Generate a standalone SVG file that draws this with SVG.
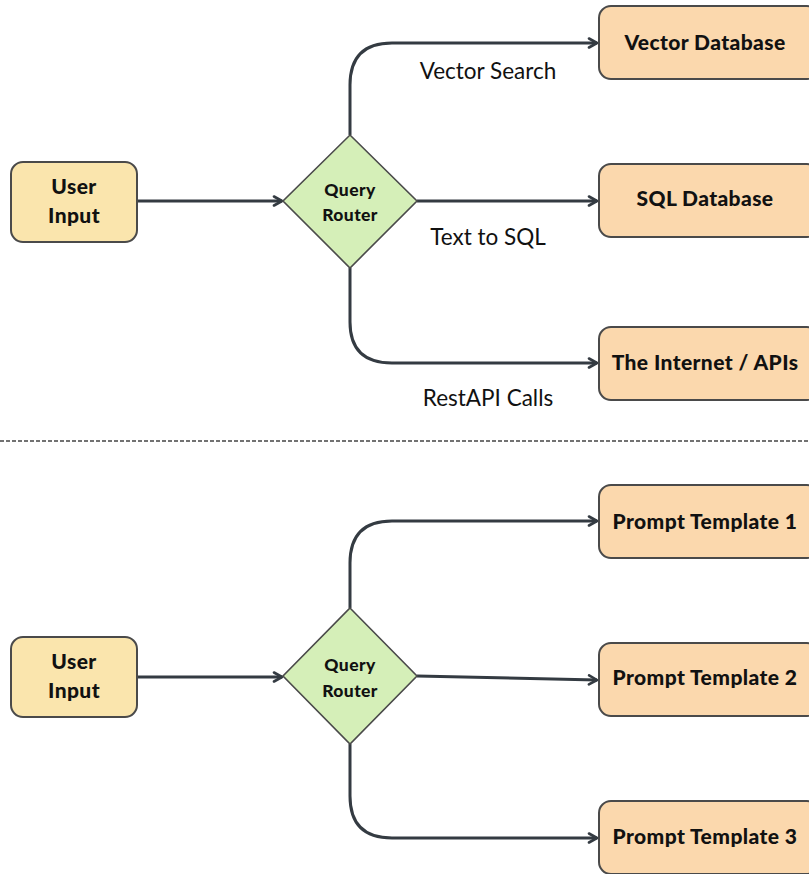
<svg xmlns="http://www.w3.org/2000/svg" width="809" height="874" viewBox="0 0 809 874">
<style>
.in{fill:#fae5ad;stroke:#4a4a4a;stroke-width:2}
.dm{fill:#d5efb8;stroke:#4a4a4a;stroke-width:1.6}
.out{fill:#fbd8ad;stroke:#4a4a4a;stroke-width:2}
.t{font-family:Lato,"Liberation Sans",sans-serif;font-weight:900;fill:#111;text-anchor:middle;letter-spacing:0.4px}
.lb{font-family:Lato,"Liberation Sans",sans-serif;font-size:22.5px;fill:#111;text-anchor:middle}
.c{fill:none;stroke:#343b42;stroke-width:3}
</style>
<defs>
<marker id="ah" viewBox="0 0 12 12" refX="10" refY="6" markerWidth="12" markerHeight="12" markerUnits="userSpaceOnUse" orient="auto">
<path d="M2,1.5 L10,6 L2,10.5" fill="none" stroke="#343b42" stroke-width="2.6" stroke-linecap="round" stroke-linejoin="round"/>
</marker>
</defs>
<rect width="809" height="874" fill="#fff"/>
<g id="connectors">
<path class="c" d="M137,201 H282" marker-end="url(#ah)"/>
<path class="c" d="M350,135 V85 Q350,43 392,43 H597" marker-end="url(#ah)"/>
<path class="c" d="M417,201 H597" marker-end="url(#ah)"/>
<path class="c" d="M350,268 V322 Q350,363 392,363 H597" marker-end="url(#ah)"/>
<path class="c" d="M137,677 H282" marker-end="url(#ah)"/>
<path class="c" d="M350,608 V563 Q350,521 392,521 H597" marker-end="url(#ah)"/>
<path class="c" d="M417,676 L597,680" marker-end="url(#ah)"/>
<path class="c" d="M350,744 V796 Q350,838 392,838 H597" marker-end="url(#ah)"/>
<line x1="0" y1="441" x2="809" y2="441" stroke="#444" stroke-width="1.5" stroke-dasharray="4,2"/>
<text class="lb" x="488" y="79">Vector Search</text>
<text class="lb" x="488" y="245">Text to SQL</text>
<text class="lb" x="488" y="406">RestAPI Calls</text>
</g>
<g id="user_input_1">
<rect class="in" x="11" y="162" width="126" height="80" rx="12"/>
<text class="t" x="74" y="194" font-size="21">User</text>
<text class="t" x="74" y="223" font-size="21">Input</text>
</g>
<g id="query_router_1">
<polygon class="dm" points="350,135 417,201 350,268 283,201"/>
<text class="t" x="350" y="196" font-size="17.5">Query</text>
<text class="t" x="350" y="221" font-size="17.5">Router</text>
</g>
<g id="vector_db">
<rect class="out" x="599" y="6" width="220" height="73" rx="12"/>
<text class="t" x="705" y="50" font-size="21">Vector Database</text>
</g>
<g id="sql_db">
<rect class="out" x="599" y="164" width="220" height="73" rx="12"/>
<text class="t" x="705" y="206" font-size="21">SQL Database</text>
</g>
<g id="internet">
<rect class="out" x="599" y="327" width="220" height="73" rx="12"/>
<text class="t" x="705" y="370" font-size="21">The Internet / APIs</text>
</g>
<g id="user_input_2">
<rect class="in" x="11" y="637" width="126" height="80" rx="12"/>
<text class="t" x="74" y="669" font-size="21">User</text>
<text class="t" x="74" y="698" font-size="21">Input</text>
</g>
<g id="query_router_2">
<polygon class="dm" points="350,608 417,676 350,744 283,676"/>
<text class="t" x="350" y="671" font-size="17.5">Query</text>
<text class="t" x="350" y="697" font-size="17.5">Router</text>
</g>
<g id="prompt_1">
<rect class="out" x="599" y="485" width="220" height="73" rx="12"/>
<text class="t" x="705" y="529" font-size="21">Prompt Template 1</text>
</g>
<g id="prompt_2">
<rect class="out" x="599" y="643" width="220" height="73" rx="12"/>
<text class="t" x="705" y="685" font-size="21">Prompt Template 2</text>
</g>
<g id="prompt_3">
<rect class="out" x="599" y="801" width="220" height="73" rx="12"/>
<text class="t" x="705" y="844" font-size="21">Prompt Template 3</text>
</g>
</svg>
